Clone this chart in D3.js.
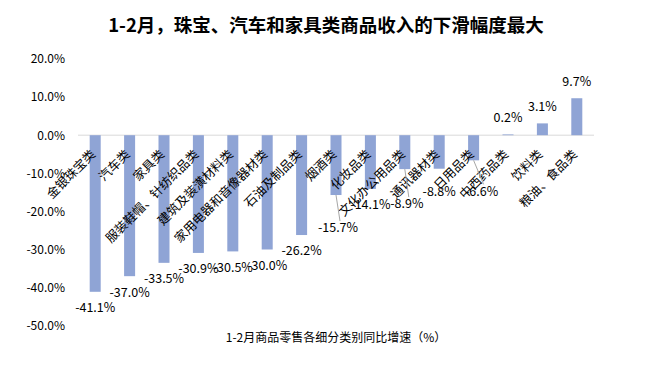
<html>
<head>
<meta charset="utf-8">
<style>
    body { margin: 0; background: #fff; }
    text { font-family: "Noto Sans CJK SC", "Noto Sans", sans-serif; fill: #000; }
</style>
<script src="https://d3js.org/d3.v7.min.js"></script>
</head>
<body>
<svg width="653" height="374"></svg>
<script>
var categories = ['金银珠宝类', '汽车类', '家具类', '服装鞋帽、针纺织品类', '建筑及装潢材料类',
    '家用电器和音像器材类', '石油及制品类', '烟酒类', '化妆品类', '文化办公用品类',
    '通讯器材类', '日用品类', '中西药品类', '饮料类', '粮油、食品类'];
var growth = [-41.1, -37.0, -33.5, -30.9, -30.5, -30.0, -26.2, -15.7, -14.1, -8.9, -8.8, -6.6, 0.2, 3.1, 9.7];
var yTicks = [20, 10, 0, -10, -20, -30, -40, -50];
var title = '1-2月，珠宝、汽车和家具类商品收入的下滑幅度最大';
var axisTitle = '1-2月商品零售各细分类别同比增速（%）';

// labels that were dragged away from the bar end in the original (extra px)
var labelMoves = { 7: [2, 17], 9: [2, 19], 10: [0, 7], 11: [8, 15] };

var svg = d3.select('svg');
var plotLeft = 78, plotRight = 594, plotTop = 59, plotBottom = 325.7;

var x = d3.scaleBand()
    .domain(categories)
    .range([plotLeft, plotRight])
    .paddingInner(0.68)
    .paddingOuter(0.34);
var y = d3.scaleLinear()
    .domain([-50, 20])
    .range([plotBottom, plotTop]);

svg.append('rect').attr('width', 653).attr('height', 374).attr('fill', '#fff');

// y axis labels only
var yAxis = d3.axisLeft(y)
    .tickValues(yTicks)
    .tickSize(0)
    .tickPadding(13)
    .tickFormat(function (d) { return d.toFixed(1) + '%'; });
var ya = svg.append('g').attr('transform', 'translate(' + plotLeft + ',0)').call(yAxis);
ya.select('.domain').remove();
ya.selectAll('text').style('font-size', '12px').attr('fill', '#000')
    .style('font-family', '"Noto Sans CJK SC", "Noto Sans", sans-serif');

// zero line
svg.append('line')
    .attr('x1', plotLeft).attr('x2', plotRight)
    .attr('y1', y(0)).attr('y2', y(0))
    .attr('stroke', '#d9d9d9').attr('stroke-width', 1);

// bars
svg.append('g').selectAll('rect')
    .data(growth)
    .enter()
    .append('rect')
    .attr('x', function (d, i) { return x(categories[i]); })
    .attr('width', x.bandwidth())
    .attr('y', function (d) { return y(Math.max(0, d)); })
    .attr('height', function (d) { return Math.abs(y(d) - y(0)); })
    .attr('fill', '#8fa4d5');

// category labels, rotated
svg.append('g').selectAll('text')
    .data(categories)
    .enter()
    .append('text')
    .attr('transform', function (d) {
        return 'translate(' + (x(d) + x.bandwidth() / 2 + 1) + ',' + (y(0) + 20) + ') rotate(-45)';
    })
    .attr('text-anchor', 'end')
    .style('font-size', '12.5px')
    .attr('fill', '#404040')
    .text(function (d) { return d; });

// leader lines + value labels
function labelPos(d, i) {
    var cx = x(categories[i]) + x.bandwidth() / 2;
    var mv = labelMoves[i] || [0, 0];
    var off = d < 0 ? 17 : -16;
    return [cx + mv[0], y(d) + off + mv[1]];
}

svg.append('g').selectAll('line')
    .data(growth)
    .enter()
    .filter(function (d, i) { return labelMoves[i] && labelMoves[i][1] > 10; })
    .append('line')
    .attr('x1', function (d) { return x(categories[growth.indexOf(d)]) + x.bandwidth() / 2; })
    .attr('y1', function (d) { return y(d); })
    .attr('x2', function (d) { return labelPos(d, growth.indexOf(d))[0] + 2; })
    .attr('y2', function (d) { return labelPos(d, growth.indexOf(d))[1] - 8; })
    .attr('stroke', '#a6a6a6').attr('stroke-width', 1);

svg.append('g').selectAll('text')
    .data(growth)
    .enter()
    .append('text')
    .attr('x', function (d, i) { return labelPos(d, i)[0]; })
    .attr('y', function (d, i) { return labelPos(d, i)[1]; })
    .attr('text-anchor', 'middle')
    .attr('dominant-baseline', 'middle')
    .style('font-size', '12.5px')
    .text(function (d) { return d.toFixed(1) + '%'; });

// titles
svg.append('text')
    .attr('x', 326).attr('y', 27)
    .attr('text-anchor', 'middle')
    .attr('dominant-baseline', 'middle')
    .style('font-size', '18.5px')
    .style('font-weight', 'bold')
    .text(title);

svg.append('text')
    .attr('x', (plotLeft + plotRight) / 2).attr('y', 339)
    .attr('text-anchor', 'middle')
    .attr('dominant-baseline', 'middle')
    .style('font-size', '12px')
    .attr('fill', '#000')
    .text(axisTitle);
</script>
</body>
</html>
